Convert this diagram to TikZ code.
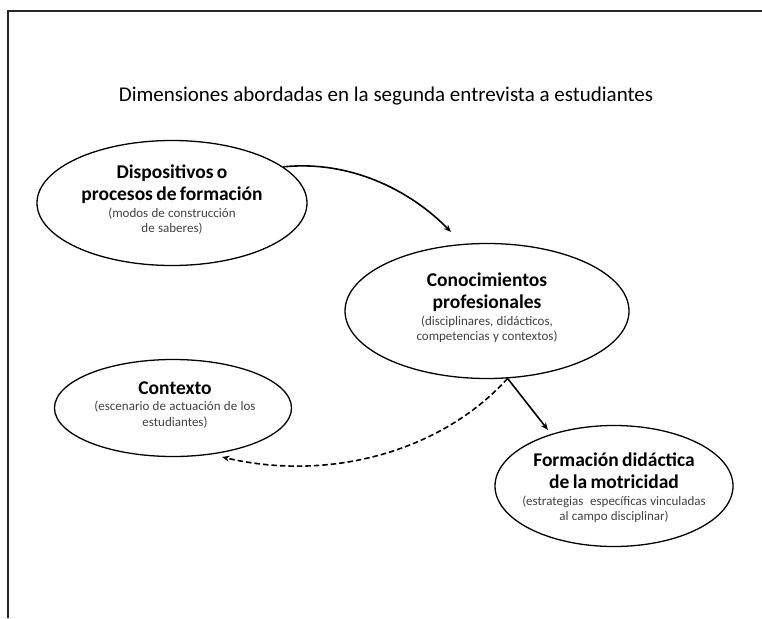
\documentclass[tikz,border=0pt]{standalone}
\usepackage{fontspec}
\setmainfont{Carlito}
\usetikzlibrary{arrows.meta,shapes.geometric}
\newcommand{\headfont}{\fontsize{19.5}{22}\selectfont\bfseries}
\newcommand{\subfont}{\fontsize{13}{15.5}\selectfont\color{black!75}}
\begin{document}
\begin{tikzpicture}[x=1pt,y=-1pt,
  ell/.style={draw=black,line width=1.3pt,ellipse,inner sep=0pt},
  txt/.style={align=center,inner sep=0pt},
  conn/.style={line width=1.6pt,-{Stealth[length=7.5pt,width=6pt]}},
  dconn/.style={conn,dash pattern=on 5.5pt off 3pt}]
\useasboundingbox (0,0) rectangle (762,618);
\draw[line width=1.3pt,black!85] (762,11) -- (8,11) -- (8,618);
\node[txt,font=\fontsize{21}{24}\selectfont] (title) at (386,96) {Dimensiones abordadas en la segunda entrevista a estudiantes};
% ellipses
\node[ell,minimum width=270pt,minimum height=125pt] (e1) at (172,203) {};
\node[ell,minimum width=284pt,minimum height=135pt] (e2) at (487,311) {};
\node[ell,minimum width=237pt,minimum height=97pt] (e3) at (173,408) {};
\node[ell,minimum width=238pt,minimum height=121pt] (e4) at (614,486) {};
% texts
\node[txt,text width=240pt] (t1) at (172,200) {{\headfont Dispositivos o\\procesos de formación\par}\vspace{1pt}{\subfont(modos de construcción\\de saberes)\par}};
\node[txt,text width=250pt] (t2) at (487,308) {{\headfont Conocimientos\\profesionales\par}\vspace{1pt}{\subfont(disciplinares, didácticos,\\competencias y contextos)\par}};
\node[txt,text width=210pt] (t3) at (175,405) {{\headfont Contexto\par}\vspace{1pt}{\subfont(escenario de actuación de los\\estudiantes)\par}};
\node[txt,text width=230pt] (t4) at (614,488) {{\headfont Formación didáctica\\de la motricidad\par}\vspace{1pt}{\subfont(estrategias\ \ específicas vinculadas\\al campo disciplinar)\par}};
% connector end points
\coordinate (a1) at (451,232);
\coordinate (a2) at (548,430);
\coordinate (a3) at (222,457);
\draw[conn] (e1.18) .. controls (350,160) and (410,190) .. (a1);
\draw[conn] (e2.-73) -- (a2);
\draw[dconn] (e2.-73) .. controls (441,452) and (329,482) .. (a3);
\end{tikzpicture}
\end{document}
